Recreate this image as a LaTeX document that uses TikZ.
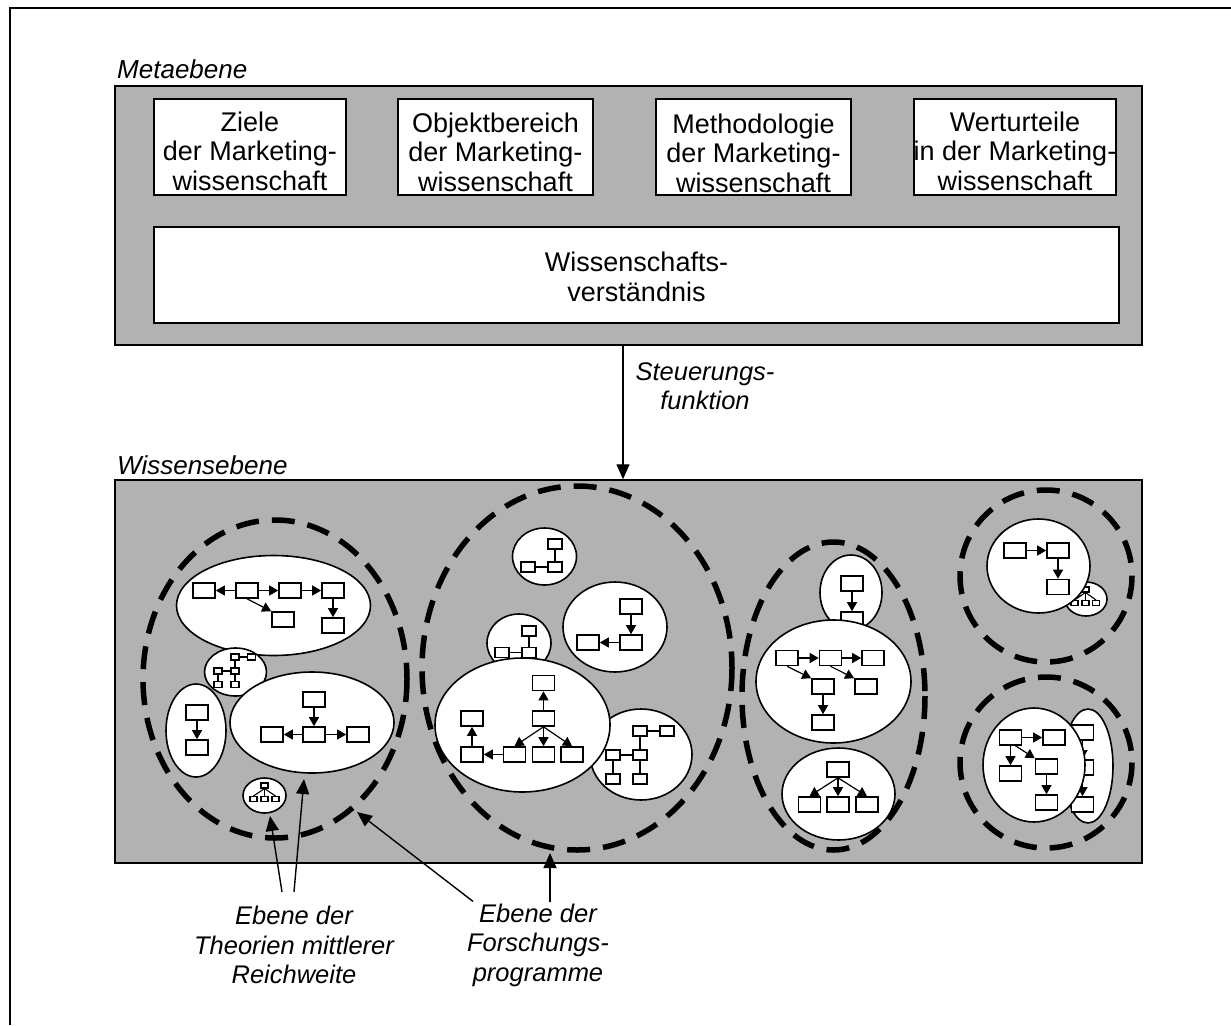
\documentclass[tikz,border=0pt]{standalone}
\usepackage{fontspec}
\setmainfont{Liberation Sans}
\usetikzlibrary{arrows.meta}

\definecolor{panelgray}{RGB}{178,178,178}

\begin{document}
\begin{tikzpicture}[x=1pt,y=-1pt,
  panel/.style={draw=black, line width=1.5, fill=panelgray, inner sep=0},
  topbox/.style={draw=black, line width=1.3, fill=white, inner sep=0},
  boxtext/.style={inner sep=0, align=center, font=\fontsize{27}{29.5}\selectfont},
  lvl/.style={font=\itshape\fontsize{26}{30}\selectfont, inner sep=0, anchor=base west},
  note/.style={font=\itshape\fontsize{25.5}{29.5}\selectfont, align=center, inner sep=0},
  bigarr/.style={line width=1.4, -{Triangle[length=15pt,width=13pt]}},
  ell/.style={draw=black, line width=1.6, fill=white},
  ring/.style={draw=black, line width=5.5, dash pattern=on 23pt off 13pt},
  sbox/.style={draw=black, line width=1.6, fill=white, minimum width=22, minimum height=15, inner sep=0},
  mbox/.style={draw=black, line width=1.3, fill=white, minimum width=14, minimum height=10, inner sep=0},
  tbox/.style={draw=black, line width=1.1, fill=white, minimum width=8, minimum height=6, inner sep=0},
  sarr/.style={line width=1.2, -{Triangle[length=9pt,width=10pt]}},
  link/.style={line width=1.1},
]
\useasboundingbox (0,0) rectangle (1231,1025);

% frame edges
\draw[line width=2.5] (10,1025) -- (10,8) -- (1231,8);

% ---------- meta level ----------
\node[lvl] (metalabel) at (117,78) {Metaebene};
\node[panel, minimum width=1027, minimum height=259] (meta) at (628.5,215.5) {};
\node[topbox, minimum width=192, minimum height=96] (ziele) at (250,147) {};
\node[topbox, minimum width=195, minimum height=96] (objekt) at (495.5,147) {};
\node[topbox, minimum width=195, minimum height=96] (methode) at (753.5,147) {};
\node[topbox, minimum width=202, minimum height=96] (werte) at (1015,147) {};
\node[topbox, minimum width=965, minimum height=96] (verst) at (636.5,275) {};
\node[boxtext] (zielet) at (250,151) {Ziele\\der Marketing-\\wissenschaft};
\node[boxtext] (objektt) at (495.5,152) {Objektbereich\\der Marketing-\\wissenschaft};
\node[boxtext] (methodet) at (753.5,153) {Methodologie\\der Marketing-\\wissenschaft};
\node[boxtext] (wertet) at (1015,151) {Werturteile\\in der Marketing-\\wissenschaft};
\node[boxtext] (verstt) at (636.5,277) {Wissenschafts-\\verst\"andnis};

% ---------- knowledge level ----------
\node[lvl] (wisslabel) at (117,474) {Wissensebene};
\node[panel, minimum width=1027, minimum height=383] (wiss) at (628.5,671.5) {};

% control arrow between the levels
\coordinate (sx) at (623,0);
\draw[bigarr] (meta.south -| sx) -- (wiss.north -| sx);
\node[note] (steu) at (705,386) {Steuerungs-\\funktion};

% ----- research programme 1 -----
\draw[ell] (273.5,605.5) ellipse [x radius=97, y radius=50];
\node[sbox] (a1) at (204,590.5) {};
\node[sbox] (a2) at (247,590.5) {};
\node[sbox] (a3) at (290,590.5) {};
\node[sbox] (a4) at (333,590.5) {};
\node[sbox] (a5) at (283,619.5) {};
\node[sbox] (a6) at (333,625.5) {};
\draw[sarr] (a2) -- (a1);
\draw[sarr] (a2) -- (a3);
\draw[sarr] (a3) -- (a4);
\draw[sarr] (a2.south) -- (a5.north west);
\draw[sarr] (a4) -- (a6);

\draw[ell] (235.5,672) ellipse [x radius=31, y radius=24];
\node[tbox] (b1) at (235,657) {};
\node[tbox] (b2) at (251.5,657) {};
\node[tbox] (b3) at (218,671) {};
\node[tbox] (b4) at (235,671) {};
\node[tbox] (b5) at (218,684.5) {};
\node[tbox] (b6) at (235,684.5) {};
\draw[link] (b1) -- (b2);
\draw[link] (b1) -- (b4);
\draw[link] (b4) -- (b6);
\draw[link] (b3) -- (b4);
\draw[link] (b3) -- (b5);

\draw[ell] (196,730.5) ellipse [x radius=30, y radius=46.5];
\node[sbox] (c1) at (197,712.5) {};
\node[sbox] (c2) at (197,747.5) {};
\draw[sarr] (c1) -- (c2);

\draw[ell] (312,722.5) ellipse [x radius=82, y radius=50.5];
\node[sbox] (d1) at (314,699.5) {};
\node[sbox] (d2) at (272,734.5) {};
\node[sbox] (d3) at (314,734.5) {};
\node[sbox] (d4) at (358,734.5) {};
\draw[sarr] (d1) -- (d3);
\draw[sarr] (d3) -- (d2);
\draw[sarr] (d3) -- (d4);

\draw[ell] (264.5,795.5) ellipse [x radius=21.5, y radius=17.5];
\node[tbox, minimum width=7, minimum height=5] (e1) at (264.5,785.5) {};
\node[tbox, minimum width=7, minimum height=5] (e2) at (253.5,799) {};
\node[tbox, minimum width=7, minimum height=5] (e3) at (264.5,799) {};
\node[tbox, minimum width=7, minimum height=5] (e4) at (275.5,799) {};
\draw[link] (e1.south) -- (e2.north);
\draw[link] (e1) -- (e3);
\draw[link] (e1.south) -- (e4.north);

% ----- research programme 2 -----
\draw[ell] (544.5,556.5) ellipse [x radius=32, y radius=28.5];
\node[mbox] (f1) at (555,544) {};
\node[mbox] (f2) at (528,567) {};
\node[mbox] (f3) at (555,567) {};
\draw[link] (f1) -- (f3);
\draw[link] (f2) -- (f3);

\draw[ell] (615,627) ellipse [x radius=52, y radius=45];
\node[sbox] (g1) at (631,606.5) {};
\node[sbox] (g2) at (631,642.5) {};
\node[sbox] (g3) at (588,642.5) {};
\draw[sarr] (g1) -- (g2);
\draw[sarr] (g2) -- (g3);

\draw[ell] (519,643) ellipse [x radius=32, y radius=29];
\node[mbox] (h1) at (529,631) {};
\node[mbox] (h2) at (502,652.5) {};
\node[mbox] (h3) at (529,652.5) {};
\draw[link] (h1) -- (h3);
\draw[link] (h2) -- (h3);

\draw[ell] (641,754.5) ellipse [x radius=51, y radius=45.5];
\node[mbox] (k1) at (640,731) {};
\node[mbox] (k2) at (667,731) {};
\node[mbox] (k3) at (613,755) {};
\node[mbox] (k4) at (640,755) {};
\node[mbox] (k5) at (613,779) {};
\node[mbox] (k6) at (640,779) {};
\draw[link] (k1) -- (k2);
\draw[link] (k1) -- (k4);
\draw[link] (k4) -- (k6);
\draw[link] (k3) -- (k4);
\draw[link] (k3) -- (k5);

\draw[ell] (522.5,725) ellipse [x radius=87.5, y radius=67];
\node[sbox] (m1) at (543.5,683) {};
\node[sbox] (m2) at (543.5,718.5) {};
\node[sbox] (m3) at (472,718.5) {};
\node[sbox] (m4) at (472,754.5) {};
\node[sbox] (m5) at (514.5,754.5) {};
\node[sbox] (m6) at (543.5,754.5) {};
\node[sbox] (m7) at (572,754.5) {};
\draw[sarr] (m2) -- (m1);
\draw[sarr] (m2.south) -- (m5.north);
\draw[sarr] (m2) -- (m6);
\draw[sarr] (m2.south) -- (m7.north);
\draw[sarr] (m5) -- (m4);
\draw[sarr] (m4) -- (m3);

% ----- research programme 3 -----
\draw[ell] (851,592.5) ellipse [x radius=31, y radius=37.5];
\node[sbox] (n1) at (852,583.5) {};
\node[sbox] (n2) at (852,619.5) {};
\draw[sarr] (n1) -- (n2);

\draw[ell] (833.5,681.5) ellipse [x radius=77.5, y radius=61.5];
\node[sbox] (o1) at (787,658) {};
\node[sbox] (o2) at (830.5,658) {};
\node[sbox] (o3) at (873,658) {};
\node[sbox] (o4) at (823,686.5) {};
\node[sbox] (o5) at (866,686.5) {};
\node[sbox] (o6) at (823,722.5) {};
\draw[sarr] (o1) -- (o2);
\draw[sarr] (o2) -- (o3);
\draw[sarr] (o1.south) -- (o4.north west);
\draw[sarr] (o2.south) -- (o5.north west);
\draw[sarr] (o4) -- (o6);

\draw[ell] (838.5,794) ellipse [x radius=56.5, y radius=46];
\node[sbox] (r1) at (838,769.5) {};
\node[sbox] (r2) at (809.5,804.5) {};
\node[sbox] (r3) at (838,804.5) {};
\node[sbox] (r4) at (867,804.5) {};
\draw[sarr] (r1.south) -- (r2.north);
\draw[sarr] (r1) -- (r3);
\draw[sarr] (r1.south) -- (r4.north);

% ----- research programme 4 -----
\draw[ell] (1086,599) ellipse [x radius=21, y radius=17];
\node[tbox, minimum width=7, minimum height=5] (s1) at (1085.5,589.5) {};
\node[tbox, minimum width=7, minimum height=5] (s2) at (1074.5,603) {};
\node[tbox, minimum width=7, minimum height=5] (s3) at (1085.5,603) {};
\node[tbox, minimum width=7, minimum height=5] (s4) at (1096,603) {};
\draw[link] (s1.south) -- (s2.north);
\draw[link] (s1) -- (s3);
\draw[link] (s1.south) -- (s4.north);

\draw[ell] (1038.5,566) ellipse [x radius=51.5, y radius=47];
\node[sbox] (u1) at (1015,550.5) {};
\node[sbox] (u2) at (1058,550.5) {};
\node[sbox] (u3) at (1058,587) {};
\draw[sarr] (u1) -- (u2);
\draw[sarr] (u2) -- (u3);

% ----- research programme 5 -----
\draw[ell] (1088,766) ellipse [x radius=25, y radius=57];
\node[sbox] (v1) at (1082.5,732.5) {};
\node[sbox] (v2) at (1082.5,767.5) {};
\node[sbox] (v3) at (1082.5,804.5) {};
\draw[sarr] (v1) -- (v2);
\draw[sarr] (v2) -- (v3);

\draw[ell] (1034,765) ellipse [x radius=51, y radius=57];
\node[sbox] (w1) at (1010.5,737.5) {};
\node[sbox] (w2) at (1054,737.5) {};
\node[sbox] (w3) at (1010.5,773.5) {};
\node[sbox] (w4) at (1046.5,766.5) {};
\node[sbox] (w5) at (1046.5,802.5) {};
\draw[sarr] (w1) -- (w2);
\draw[sarr] (w1) -- (w3);
\draw[sarr] ([xshift=5]w1.south) -- (w4.north west);
\draw[sarr] (w4) -- (w5);

% ----- dashed research programme boundaries -----
\draw[ring] (275,679) ellipse [x radius=132, y radius=159];
\draw[ring] (577,668) ellipse [x radius=155, y radius=182];
\draw[ring] (833.5,696) ellipse [x radius=91.5, y radius=154];
\draw[ring] (1046,576) ellipse [x radius=86, y radius=86];
\draw[ring] (1046,762.5) ellipse [x radius=86, y radius=85.5];

% ----- level captions with pointers -----
\node[note] (theo) at (294,945) {Ebene der\\Theorien mittlerer\\Reichweite};
\node[note] (forsch) at (538,945) {Ebene der\\Forschungs-\\programme};
\coordinate (p1) at (270,816);
\coordinate (p2) at (304,779);
\coordinate (p3) at (357,812);
\coordinate (p4) at (550,853);
\draw[bigarr] ([shift={(-12,-14)}]theo.north) -- (p1);
\draw[bigarr] ([shift={(0,-14)}]theo.north) -- (p2);
\draw[bigarr] ([shift={(-65,-2)}]forsch.north) -- (p3);
\draw[bigarr] ([shift={(12,-1)}]forsch.north) -- (p4);
\end{tikzpicture}
\end{document}
